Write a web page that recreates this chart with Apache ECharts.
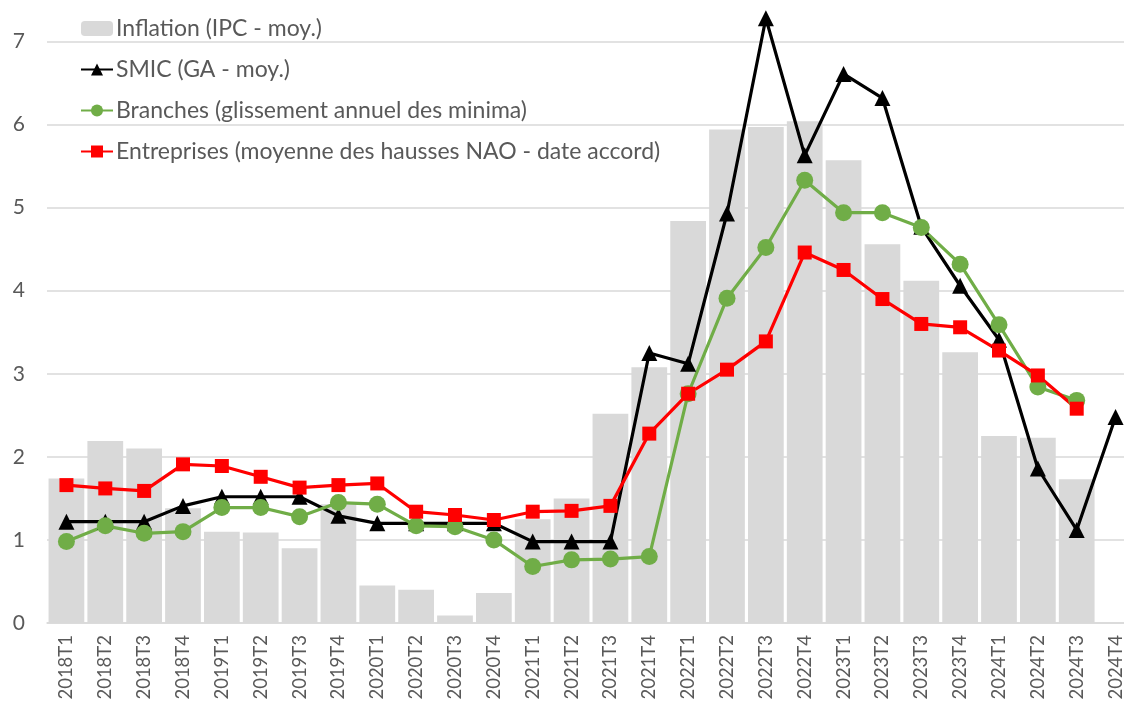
<!DOCTYPE html>
<html lang="fr">
<head>
    <meta charset="UTF-8">
    <title>Inflation, SMIC et salaires</title>
    <script src="https://cdn.jsdelivr.net/npm/echarts@6/dist/echarts.min.js"></script>
    <style>
        html, body { margin: 0; padding: 0; background: #fff; }
        #chart { width: 1124px; height: 713px; }
    </style>
</head>
<body>
    <div id="chart"></div>
    <script>
        // trimestres
        var categories = ['2018T1', '2018T2', '2018T3', '2018T4', '2019T1', '2019T2', '2019T3', '2019T4',
            '2020T1', '2020T2', '2020T3', '2020T4', '2021T1', '2021T2', '2021T3', '2021T4',
            '2022T1', '2022T2', '2022T3', '2022T4', '2023T1', '2023T2', '2023T3', '2023T4',
            '2024T1', '2024T2', '2024T3', '2024T4'];

        // Inflation (IPC - moy.)
        var inflation = [1.74, 2.19, 2.10, 1.38, 1.10, 1.09, 0.90, 1.43,
            0.45, 0.40, 0.09, 0.36, 1.25, 1.50, 2.52, 3.08,
            4.84, 5.94, 5.97, 6.04, 5.57, 4.56, 4.12, 3.26,
            2.25, 2.23, 1.73, null];

        // SMIC (GA - moy.)
        var smic = [1.22, 1.22, 1.22, 1.41, 1.52, 1.52, 1.52, 1.29,
            1.20, 1.20, 1.20, 1.20, 0.98, 0.98, 0.98, 3.25,
            3.12, 4.93, 7.28, 5.63, 6.61, 6.32, 4.77, 4.06,
            3.41, 1.86, 1.12, 2.48];

        // Branches (glissement annuel des minima)
        var branches = [0.98, 1.17, 1.08, 1.10, 1.39, 1.39, 1.28, 1.45,
            1.43, 1.17, 1.16, 1.00, 0.68, 0.76, 0.77, 0.80,
            2.76, 3.91, 4.52, 5.33, 4.94, 4.94, 4.76, 4.32,
            3.59, 2.84, 2.68, null];

        // Entreprises (moyenne des hausses NAO - date accord)
        var entreprises = [1.66, 1.62, 1.59, 1.91, 1.89, 1.76, 1.63, 1.66,
            1.68, 1.34, 1.30, 1.24, 1.34, 1.35, 1.41, 2.28,
            2.76, 3.05, 3.39, 4.46, 4.25, 3.90, 3.60, 3.56,
            3.28, 2.98, 2.58, null];

        var chart = echarts.init(document.getElementById('chart'));
        var font = 'Lato, "Open Sans", sans-serif';
        var grey = '#595959';

        var option = {
            animation: false,
            textStyle: { fontFamily: font },
            grid: { left: 47, top: 0, width: 1088, height: 623, outerBoundsMode: 'none' },
            legend: {
                orient: 'vertical',
                left: 75,
                top: 12,
                itemGap: 18,
                itemWidth: 32,
                itemHeight: 15,
                textStyle: { fontSize: 23, color: grey, fontFamily: font, padding: [0, 0, 0, -2] },
                data: ['Inflation (IPC - moy.)', 'SMIC (GA - moy.)',
                    'Branches (glissement annuel des minima)',
                    'Entreprises (moyenne des hausses NAO - date accord)']
            },
            xAxis: {
                type: 'category',
                data: categories,
                axisLine: { lineStyle: { color: '#d9d9d9', width: 1.5 } },
                axisTick: { show: false },
                axisLabel: { rotate: 90, fontSize: 18.5, color: grey, margin: 12, interval: 0 }
            },
            yAxis: {
                type: 'value',
                min: 0,
                max: 7.5,
                interval: 1,
                axisLabel: { fontSize: 21, color: grey, margin: 22, showMaxLabel: false },
                splitLine: { lineStyle: { color: '#d9d9d9', width: 1.5 }, showMaxLine: false }
            },
            series: [
                {
                    name: 'Inflation (IPC - moy.)',
                    type: 'bar',
                    data: inflation,
                    barCategoryGap: '8%',
                    itemStyle: { color: '#d9d9d9' }
                },
                {
                    name: 'SMIC (GA - moy.)',
                    type: 'line',
                    data: smic,
                    symbol: 'triangle',
                    symbolSize: 16,
                    lineStyle: { color: '#000', width: 3.2 },
                    itemStyle: { color: '#000' }
                },
                {
                    name: 'Branches (glissement annuel des minima)',
                    type: 'line',
                    data: branches,
                    symbol: 'circle',
                    symbolSize: 17,
                    lineStyle: { color: '#70ad47', width: 3.2 },
                    itemStyle: { color: '#70ad47' }
                },
                {
                    name: 'Entreprises (moyenne des hausses NAO - date accord)',
                    type: 'line',
                    data: entreprises,
                    symbol: 'rect',
                    symbolSize: 14,
                    lineStyle: { color: '#ff0000', width: 3.2 },
                    itemStyle: { color: '#ff0000' }
                }
            ]
        };

        chart.setOption(option);
    </script>
</body>
</html>
